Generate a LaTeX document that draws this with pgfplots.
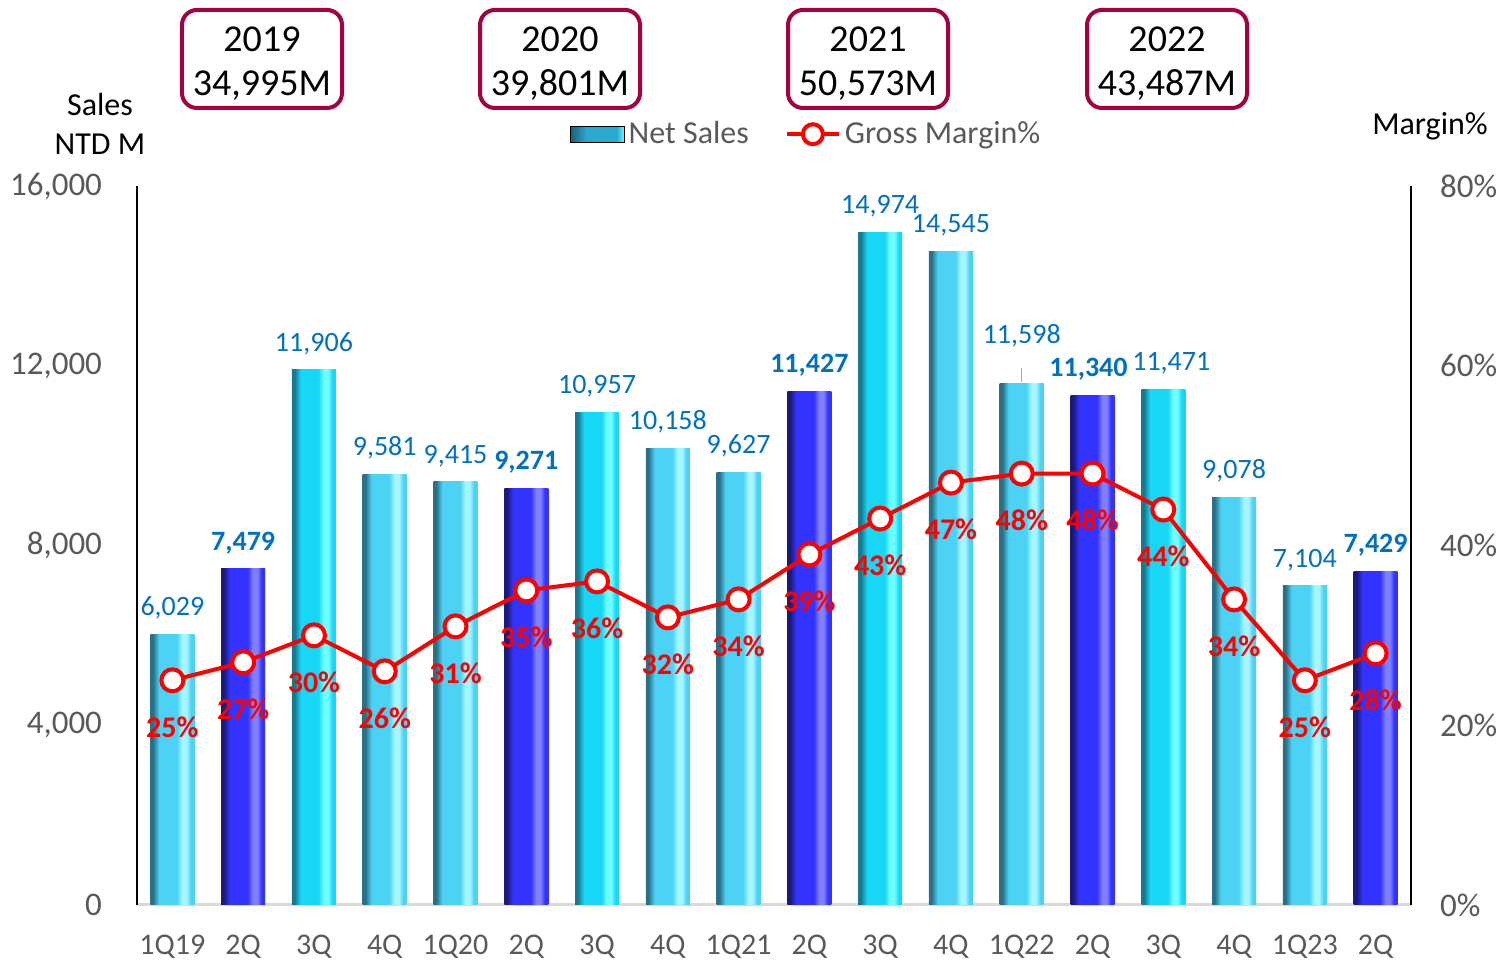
\documentclass[border=0pt]{standalone}
\usepackage{fontspec}
\setmainfont{Carlito}
\usepackage{pgfplots}
\pgfplotsset{compat=1.18}
\definecolor{txtgray}{HTML}{595959}
\definecolor{lblblue}{HTML}{0070C0}
\definecolor{boxred}{HTML}{A50040}
\definecolor{axgray}{HTML}{D9D9D9}
\definecolor{lbedge}{HTML}{2A7086}
\definecolor{lbmain}{HTML}{4CD2F5}
\definecolor{lbhi}{HTML}{A6F6FF}
\definecolor{cyedge}{HTML}{16798F}
\definecolor{cymain}{HTML}{18D6F6}
\definecolor{cyhi}{HTML}{6FFFFF}
\definecolor{dbedge}{HTML}{1A1A7A}
\definecolor{dbmain}{HTML}{3333FF}
\definecolor{dbhi}{HTML}{8080FF}
\definecolor{lgedge}{HTML}{1B5E75}
\definecolor{lgmain}{HTML}{2AA9CF}
\pgfdeclarehorizontalshading{lightbar}{100bp}{color(0bp)=(lbedge); color(25bp)=(lbedge); color(28bp)=(lbedge); color(35bp)=(lbmain); color(55bp)=(lbmain); color(61bp)=(lbhi); color(66bp)=(lbhi); color(71bp)=(lbmain); color(100bp)=(lbmain)}
\pgfdeclarehorizontalshading{cyanbar}{100bp}{color(0bp)=(cyedge); color(25bp)=(cyedge); color(28bp)=(cyedge); color(35bp)=(cymain); color(55bp)=(cymain); color(61bp)=(cyhi); color(66bp)=(cyhi); color(71bp)=(cymain); color(100bp)=(cymain)}
\pgfdeclarehorizontalshading{darkbar}{100bp}{color(0bp)=(dbedge); color(25bp)=(dbedge); color(28bp)=(dbedge); color(35bp)=(dbmain); color(55bp)=(dbmain); color(61bp)=(dbhi); color(66bp)=(dbhi); color(71bp)=(dbmain); color(100bp)=(dbmain)}
\pgfdeclarehorizontalshading{legbar}{100bp}{color(0bp)=(lgedge); color(25bp)=(lgedge); color(40bp)=(lgmain); color(68bp)=(lgmain); color(75bp)=(cyhi); color(100bp)=(cyhi)}
\pgfplotsset{/pgf/number format/.cd, 1000 sep={,}, assume math mode=true}

\begin{document}
\begin{tikzpicture}
\path[use as bounding box] (-68.5pt,-28.5pt) rectangle (682pt,452.5pt);
\pgfplotsset{
  base/.style={
    scale only axis, width=637pt, height=359.5pt,
    xmin=-0.5, xmax=17.5, clip=false,
    tick style={draw=none},
    tick label style={font=\fontsize{15}{15}\selectfont, text=txtgray},
    yticklabel style={font=\fontsize{16.5}{16.5}\selectfont},
  },
  lb/.style={draw=none, shade, shading=lightbar},
  cy/.style={draw=none, shade, shading=cyanbar},
  db/.style={draw=none, shade, shading=darkbar,
    every node near coord/.append style={font=\bfseries\fontsize{14}{14}\selectfont}},
}
\begin{axis}[base,
  ymin=0, ymax=16000, ytick={0,4000,8000,12000,16000},
  scaled y ticks=false,
  axis y line*=left, axis x line*=bottom,
  y axis line style={black, line width=0.75pt, -},
  x axis line style={axgray, line width=1.5pt, -},
  yticklabel style={xshift=-14pt},
  xtick={0,...,17},
  xticklabels={1Q19,2Q,3Q,4Q,1Q20,2Q,3Q,4Q,1Q21,2Q,3Q,4Q,1Q22,2Q,3Q,4Q,1Q23,2Q},
  xticklabel style={yshift=-7pt},
  ybar, bar width=22pt, bar shift=0pt,
  nodes near coords,
  every node near coord/.append style={text=lblblue, font=\fontsize{14}{14}\selectfont, yshift=4pt},
]
\addplot[lb] coordinates {(0,6029)};
\addplot[db] coordinates {(1,7479)};
\addplot[cy] coordinates {(2,11906)};
\addplot[lb] coordinates {(3,9581)};
\addplot[lb] coordinates {(4,9415)};
\addplot[db] coordinates {(5,9271)};
\addplot[cy] coordinates {(6,10957)};
\addplot[lb] coordinates {(7,10158)};
\addplot[lb] coordinates {(8,9627)};
\addplot[db] coordinates {(9,11427)};
\addplot[cy] coordinates {(10,14974)};
\addplot[lb] coordinates {(11,14545)};
\addplot[lb, every node near coord/.append style={yshift=11pt}] coordinates {(12,11598)};
\addplot[db, every node near coord/.append style={xshift=-2pt}] coordinates {(13,11340)};
\addplot[cy, every node near coord/.append style={xshift=4pt}] coordinates {(14,11471)};
\addplot[lb] coordinates {(15,9078)};
\addplot[lb] coordinates {(16,7104)};
\addplot[db] coordinates {(17,7429)};
\draw[gray!70, line width=0.6pt] (axis cs:12,11640) -- (axis cs:12,11960);
\end{axis}

\begin{axis}[base,
  ymin=0, ymax=80, ytick={0,20,40,60,80},
  axis x line=none, axis y line*=right,
  y axis line style={black, line width=0.75pt, -},
  yticklabel={\pgfmathprintnumber{\tick}\%},
  yticklabel style={xshift=11pt},
  legend style={at={(0.526,1.072)}, anchor=center, draw=none, fill=none,
    legend columns=2, font=\fontsize{16}{16}\selectfont, text=txtgray,
    /tikz/every even column/.append style={column sep=16pt}},
]
\addlegendimage{legend image code/.code={
  \path[shade, shading=legbar] (0pt,-4pt) rectangle (27pt,4pt);}}
\addlegendentry{Net Sales}
\addplot[red, line width=2pt, mark=*, mark size=5.5pt,
  mark options={fill=white, draw=red, line width=2pt},
  nodes near coords={\pgfmathprintnumber{\pgfplotspointmeta}\%},
  every node near coord/.append style={anchor=center, yshift=-23.5pt,
    text=red, font=\bfseries\fontsize{15}{15}\selectfont},
  legend image code/.code={
    \draw[red, line width=2pt] (0pt,0pt) -- (26pt,0pt);
    \draw[red, fill=white, line width=2pt] (13pt,0pt) circle (5pt);}
] coordinates {
(0,25) (1,27) (2,30) (3,26) (4,31) (5,35) (6,36) (7,32) (8,34)
(9,39) (10,43) (11,47) (12,48) (13,48) (14,44) (15,34) (16,25) (17,28)};
\addlegendentry{Gross Margin\%}
\end{axis}

\begin{scope}[every node/.style={font=\fontsize{19}{22}\selectfont, align=center}]
\foreach \x/\yr/\val in {62.5/2019/{34,995M}, 211.5/2020/{39,801M}, 365.5/2021/{50,573M}, 515/2022/{43,487M}}{
  \draw[boxred, line width=2pt, rounded corners=7.5pt] (\x pt-40pt,398.5pt) rectangle (\x pt+40pt,447.5pt);
  \node at (\x pt,420.5pt) {\yr\\\val};
}
\end{scope}
\node[font=\fontsize{16}{16}\selectfont] at (-18.5pt,400pt) {Sales};
\node[font=\fontsize{16}{16}\selectfont] at (-18.5pt,380.5pt) {NTD M};
\node[font=\fontsize{16}{16}\selectfont] at (646.5pt,389.5pt) {Margin\%};
\end{tikzpicture}
\end{document}
